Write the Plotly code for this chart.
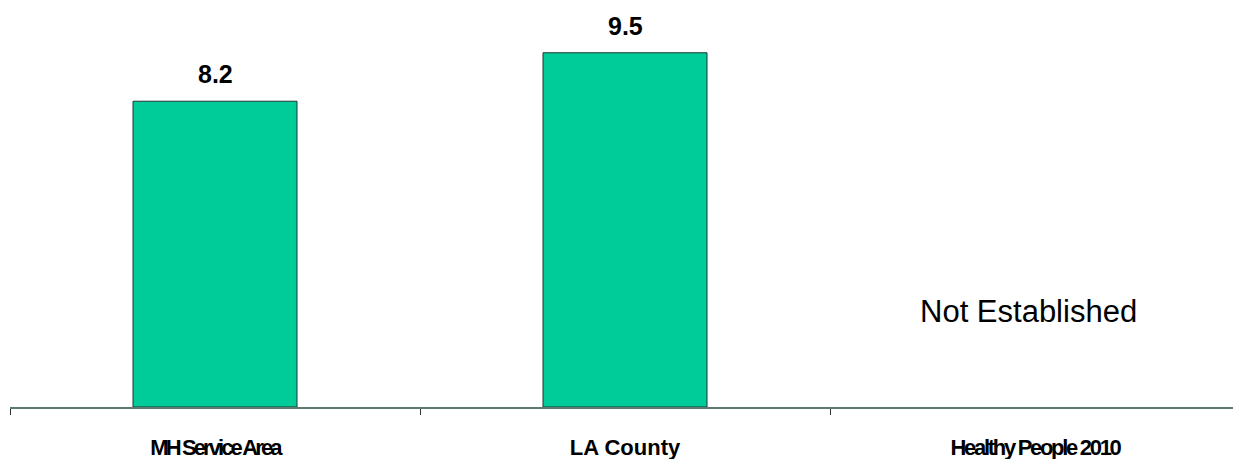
import plotly.graph_objects as go

categories = ["MH Service Area", "LA County", "Healthy People 2010"]
tick_labels = [
    "<span style='letter-spacing:-2.9px'>MH Service Area</span>",
    "LA County",
    "<span style='letter-spacing:-2.3px'>Healthy People 2010</span>",
]
values = [8.2, 9.5, None]
value_labels = ["8.2", "9.5", ""]
note_text = "Not Established"
note_value = 2.55

FONT = "Arial, Liberation Sans, sans-serif"

fig = go.Figure()
fig.add_trace(go.Bar(
    x=categories, y=values, width=0.4,
    marker=dict(color="#00CC99", line=dict(color="#1f3530", width=1)),
    hoverinfo="skip",
))
for c, v, t in zip(categories, values, value_labels):
    if v is not None:
        fig.add_annotation(x=c, y=v, text=f"<b>{t}</b>", showarrow=False,
                           yanchor="bottom", yshift=11,
                           font=dict(family=FONT, size=25, color="black"))
fig.add_annotation(x=categories[2], y=note_value, text=note_text, showarrow=False,
                   xshift=-7, font=dict(family=FONT, size=31, color="black"))

fig.update_layout(
    width=1233, height=451,
    margin=dict(l=2, r=1, t=0, b=52),
    paper_bgcolor="white", plot_bgcolor="white",
    showlegend=False,
    xaxis=dict(
        showline=True, linecolor="#5f7a70", linewidth=1.5,
        tickson="boundaries", ticks="outside", ticklen=6, tickcolor="#333",
        tickmode="array", tickvals=categories, ticktext=[f"<b>{t}</b>" for t in tick_labels],
        tickfont=dict(family=FONT, size=22, color="black"),
        ticklabelstandoff=20,
        showgrid=False,
    ),
    yaxis=dict(range=[0, 10.70], visible=False, showgrid=False),
)
fig.write_html("out.html")
